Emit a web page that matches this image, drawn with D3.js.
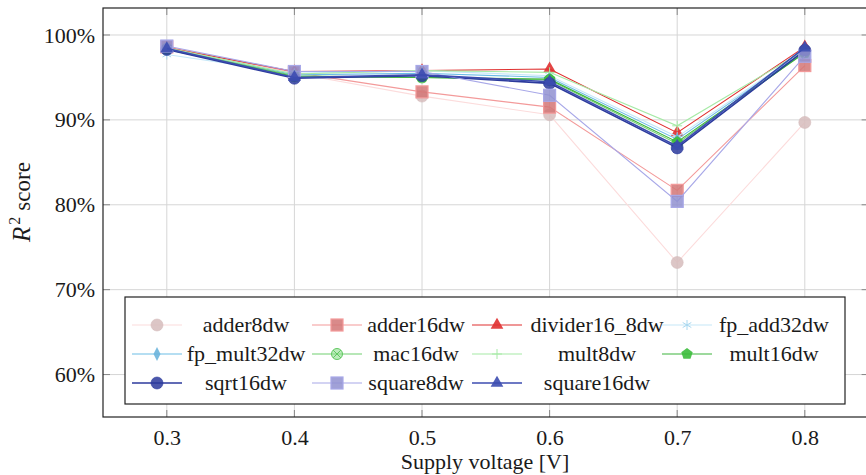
<!DOCTYPE html>
<html><head><meta charset="utf-8">
<script src="https://cdn.jsdelivr.net/npm/d3@7"></script>
<style>body{margin:0;background:#fff}svg{display:block}</style>
</head><body><svg id="c" width="866" height="475"></svg>
<script>
const FONT = "'Liberation Serif', 'Times New Roman', Times, 'DejaVu Serif', serif";
const voltages = [0.3, 0.4, 0.5, 0.6, 0.7, 0.8];
const xTicks = [0.3, 0.4, 0.5, 0.6, 0.7, 0.8];
const yTicks = [60, 70, 80, 90, 100];
const seriesNames = ["adder8dw","adder16dw","divider16_8dw","fp_add32dw","fp_mult32dw","mac16dw","mult8dw","mult16dw","sqrt16dw","square8dw","square16dw"];
const adder8dw      = [98.5, 95.5, 92.8, 90.6, 73.2, 89.7];
const adder16dw     = [98.6, 95.6, 93.3, 91.5, 81.7, 96.4];
const divider16_8dw = [98.5, 95.7, 95.8, 96.0, 88.5, 98.6];
const fp_add32dw    = [97.7, 95.5, 95.8, 95.2, 88.0, 98.2];
const fp_mult32dw   = [98.4, 95.3, 95.5, 95.0, 87.7, 98.1];
const mac16dw       = [98.4, 95.2, 95.0, 94.7, 87.2, 98.0];
const mult8dw       = [98.5, 95.4, 95.8, 95.6, 89.3, 98.2];
const mult16dw      = [98.3, 95.1, 95.0, 94.8, 87.4, 97.9];
const sqrt16dw      = [98.3, 94.9, 95.2, 94.3, 86.7, 98.2];
const square8dw     = [98.7, 95.7, 95.7, 92.9, 80.4, 97.5];
const square16dw    = [98.4, 95.0, 95.3, 94.5, 86.9, 98.5];
const values = [adder8dw, adder16dw, divider16_8dw, fp_add32dw, fp_mult32dw, mac16dw, mult8dw, mult16dw, sqrt16dw, square8dw, square16dw];

const styles = [
  {line:"#fcdcdc", fill:"#d6bcbc", mark:"circle"},
  {line:"#f39a9a", fill:"#d27676", mark:"square"},
  {line:"#e03030", fill:"#e03030", mark:"triangle"},
  {line:"#c6e8f8", fill:"#c6e8f8", mark:"star"},
  {line:"#6cbde6", fill:"#6cb4dc", mark:"diamond"},
  {line:"#70d070", fill:"#90e090", mark:"otimes"},
  {line:"#a6eaa6", fill:"#a6eaa6", mark:"plus"},
  {line:"#3cb43c", fill:"#3cbc3c", mark:"pentagon"},
  {line:"#2c3a9c", fill:"#2c3a9c", mark:"circle"},
  {line:"#a8a8e8", fill:"#9090d0", mark:"square"},
  {line:"#3c4cb0", fill:"#3c4cb0", mark:"triangle"}
];

const svg = d3.select("#c");
const L = 103, R = 868.6, T = 8, B = 417;
const x = d3.scaleLinear().domain([0.25, 0.85]).range([L, R]);
const y = d3.scaleLinear().domain([55, 103.18]).range([B, T]);

const g = svg.append("g");
g.selectAll(".gx").data(xTicks).enter().append("line")
  .attr("x1", d => x(d)).attr("x2", d => x(d)).attr("y1", T).attr("y2", B)
  .attr("stroke", "#d6d6d6").attr("stroke-width", 1);
g.selectAll(".gy").data(yTicks).enter().append("line")
  .attr("x1", L).attr("x2", R).attr("y1", d => y(d)).attr("y2", d => y(d))
  .attr("stroke", "#d6d6d6").attr("stroke-width", 1);

const xAxis = d3.axisBottom(x).tickValues(xTicks).tickSize(0).tickPadding(12).tickFormat(d3.format(".1f"));
const yAxis = d3.axisLeft(y).tickValues(yTicks).tickSize(0).tickPadding(8).tickFormat(d => d + "%");
const xa = svg.append("g").attr("transform", `translate(0,${B})`).call(xAxis);
const ya = svg.append("g").attr("transform", `translate(${L},0)`).call(yAxis);
[xa, ya].forEach(a => { a.attr("font-family", FONT).attr("font-size", 22); a.select(".domain").remove(); a.selectAll("text").attr("fill", "#1a1a1a"); });

const tk = svg.append("g").attr("stroke", "#888").attr("stroke-width", 1);
xTicks.forEach(v => {
  tk.append("line").attr("x1", x(v)).attr("x2", x(v)).attr("y1", B).attr("y2", B - 7);
  tk.append("line").attr("x1", x(v)).attr("x2", x(v)).attr("y1", T).attr("y2", T + 7);
});
yTicks.forEach(v => {
  tk.append("line").attr("x1", L).attr("x2", L + 7).attr("y1", y(v)).attr("y2", y(v));
  tk.append("line").attr("x1", R).attr("x2", R - 7).attr("y1", y(v)).attr("y2", y(v));
});

function pentagonPath(rad) { const p = []; for (let i = 0; i < 5; i++) { const a = -Math.PI/2 + i*2*Math.PI/5; p.push([rad*Math.cos(a), rad*Math.sin(a)]); } return "M" + p.join("L") + "Z"; }
function drawMarker(sel, cx, cy, st) {
  const m = st.mark, f = st.fill;
  const gm = sel.append("g").attr("transform", `translate(${cx},${cy})`);
  if (m === "circle") gm.append("circle").attr("r", 6).attr("fill", f).attr("fill-opacity", 0.85).attr("stroke", f).attr("stroke-opacity", 0.6);
  else if (m === "square") gm.append("rect").attr("x", -6).attr("y", -6).attr("width", 12).attr("height", 12).attr("fill", f).attr("fill-opacity", 0.85).attr("stroke", st.line).attr("stroke-width", 1.2);
  else if (m === "triangle") gm.append("path").attr("d", d3.symbol(d3.symbolTriangle, 70)()).attr("fill", f).attr("fill-opacity", 0.9);
  else if (m === "diamond") gm.append("path").attr("d", "M0,-7L3.5,0L0,7L-3.5,0Z").attr("fill", f).attr("fill-opacity", 0.9);
  else if (m === "pentagon") gm.append("path").attr("d", pentagonPath(6)).attr("fill", f).attr("fill-opacity", 0.9);
  else if (m === "otimes") { gm.append("circle").attr("r", 5.5).attr("fill", f).attr("fill-opacity", 0.6).attr("stroke", "#60c860").attr("stroke-width", 1);
    gm.append("path").attr("d", "M-3.9,-3.9L3.9,3.9M-3.9,3.9L3.9,-3.9").attr("stroke", "#60c860").attr("stroke-width", 1); }
  else if (m === "plus") gm.append("path").attr("d", "M-5,0L5,0M0,-5L0,5").attr("stroke", f).attr("stroke-width", 1);
  else if (m === "star") gm.append("path").attr("d", "M0,-5L0,5M-4.3,-2.5L4.3,2.5M-4.3,2.5L4.3,-2.5").attr("stroke", "#a8d8f0").attr("stroke-width", 1);
}

const line = d3.line().x((d, i) => x(voltages[i])).y(d => y(d));
values.forEach((vals, k) => {
  const st = styles[k];
  const sg = svg.append("g");
  sg.append("path").datum(vals).attr("d", line).attr("fill", "none").attr("stroke", st.line)
    .attr("stroke-width", (k === 8 || k === 10) ? 1.6 : 1.1);
  vals.forEach((v, i) => drawMarker(sg, x(voltages[i]), y(v), st));
});

svg.append("rect").attr("x", L).attr("y", T).attr("width", R - L).attr("height", B - T)
  .attr("fill", "none").attr("stroke", "#222").attr("stroke-width", 1.2);

const lg = svg.append("g").attr("font-family", FONT).attr("font-size", 22);
lg.append("rect").attr("x", 125).attr("y", 297).attr("width", 720).attr("height", 107)
  .attr("fill", "#fff").attr("stroke", "#222").attr("stroke-width", 1.2);
const colX = [132, 312, 472, 662];
const colTextC = [246, 416, 597, 774];
const rowY = [325, 354, 383];
seriesNames.forEach((name, k) => {
  const c = k % 4, r = Math.floor(k / 4);
  const st = styles[k];
  lg.append("line").attr("x1", colX[c]).attr("x2", colX[c] + 50).attr("y1", rowY[r]).attr("y2", rowY[r])
    .attr("stroke", st.line).attr("stroke-width", (k === 8 || k === 10) ? 1.6 : 1.1);
  drawMarker(lg, colX[c] + 25, rowY[r], st);
  lg.append("text").attr("x", colTextC[c]).attr("y", rowY[r] + 7).attr("text-anchor", "middle")
    .attr("fill", "#1a1a1a").text(name);
});

svg.append("text").attr("x", 485).attr("y", 469).attr("text-anchor", "middle")
  .attr("font-family", FONT).attr("font-size", 22).attr("fill", "#1a1a1a").text("Supply voltage [V]");
const yl = svg.append("text").attr("transform", `translate(30,202) rotate(-90)`).attr("text-anchor", "middle")
  .attr("font-family", FONT).attr("font-size", 23).attr("fill", "#1a1a1a");
yl.append("tspan").attr("font-style", "italic").attr("font-size", 25).text("R");
yl.append("tspan").attr("font-size", 16).attr("dx", 2).attr("dy", -10).text("2");
yl.append("tspan").attr("dx", 6).attr("dy", 10).text("score");
</script></body></html>
